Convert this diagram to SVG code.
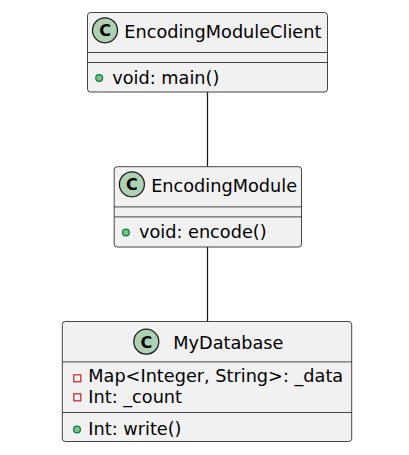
<svg xmlns="http://www.w3.org/2000/svg" width="409" height="455" viewBox="0 0 409 455">
<style>
.box{fill:#F1F1F1;stroke:#181818;stroke-width:0.8}
.sep{stroke:#181818;stroke-width:0.8}
.ci{fill:#ADD1B2;stroke:#181818;stroke-width:1.25}
.cl{font-family:"DejaVu Sans",sans-serif;font-weight:bold;font-size:16px;fill:#000;text-anchor:middle}
.nm{font-family:"DejaVu Sans",sans-serif;font-size:17.7px;fill:#000}
.mb{font-family:"DejaVu Sans",sans-serif;font-size:17.7px;fill:#000}
.pub{fill:#84BE84;stroke:#038048;stroke-width:1.25}
.priv{fill:none;stroke:#C82930;stroke-width:1.25}
.edge{stroke:#181818;stroke-width:1.25;fill:none}
</style>
<rect width="409" height="455" fill="#FFFFFF"/>
<g id="connectors">
<line class="edge" x1="207.5" y1="92" x2="207.5" y2="166.7"/>
<line class="edge" x1="207.5" y1="247" x2="207.5" y2="321.5"/>
</g>
<g id="EncodingModuleClient">
<rect class="box" x="87.5" y="12.5" width="240" height="79.5" rx="3" ry="3"/>
<circle class="ci" cx="105" cy="30.3" r="12.5"/>
<text class="cl" x="105" y="36.1">C</text>
<text class="nm" x="124.3" y="37.8">EncodingModuleClient</text>
<line class="sep" x1="87.5" y1="52.5" x2="327.5" y2="52.5"/>
<line class="sep" x1="87.5" y1="62.5" x2="327.5" y2="62.5"/>
<circle class="pub" cx="99.2" cy="78" r="3.4"/>
<text class="mb" x="112.3" y="83.5">void: main()</text>
</g>
<g id="EncodingModule">
<rect class="box" x="114.2" y="166.7" width="187.3" height="80.3" rx="3" ry="3"/>
<circle class="ci" cx="131.9" cy="184.3" r="12.5"/>
<text class="cl" x="131.9" y="190.1">C</text>
<text class="nm" x="151.2" y="192">EncodingModule</text>
<line class="sep" x1="114.2" y1="206.9" x2="301.5" y2="206.9"/>
<line class="sep" x1="114.2" y1="216.9" x2="301.5" y2="216.9"/>
<circle class="pub" cx="125.9" cy="232.5" r="3.4"/>
<text class="mb" x="139" y="238">void: encode()</text>
</g>
<g id="MyDatabase">
<rect class="box" x="62.3" y="321.5" width="289.4" height="120" rx="3" ry="3"/>
<circle class="ci" cx="146.3" cy="341.7" r="12.5"/>
<text class="cl" x="146.3" y="347.5">C</text>
<text class="nm" x="173.3" y="349.3">MyDatabase</text>
<line class="sep" x1="62.3" y1="361.9" x2="351.7" y2="361.9"/>
<rect class="priv" x="73.8" y="374.8" width="7" height="7"/>
<text class="mb" x="88.3" y="382.2">Map&lt;Integer, String&gt;: _data</text>
<rect class="priv" x="73.8" y="393.8" width="7" height="7"/>
<text class="mb" x="88.3" y="402.6">Int: _count</text>
<line class="sep" x1="62.3" y1="412.5" x2="351.7" y2="412.5"/>
<circle class="pub" cx="77" cy="429.5" r="3.4"/>
<text class="mb" x="88.3" y="434.5">Int: write()</text>
</g>
</svg>
